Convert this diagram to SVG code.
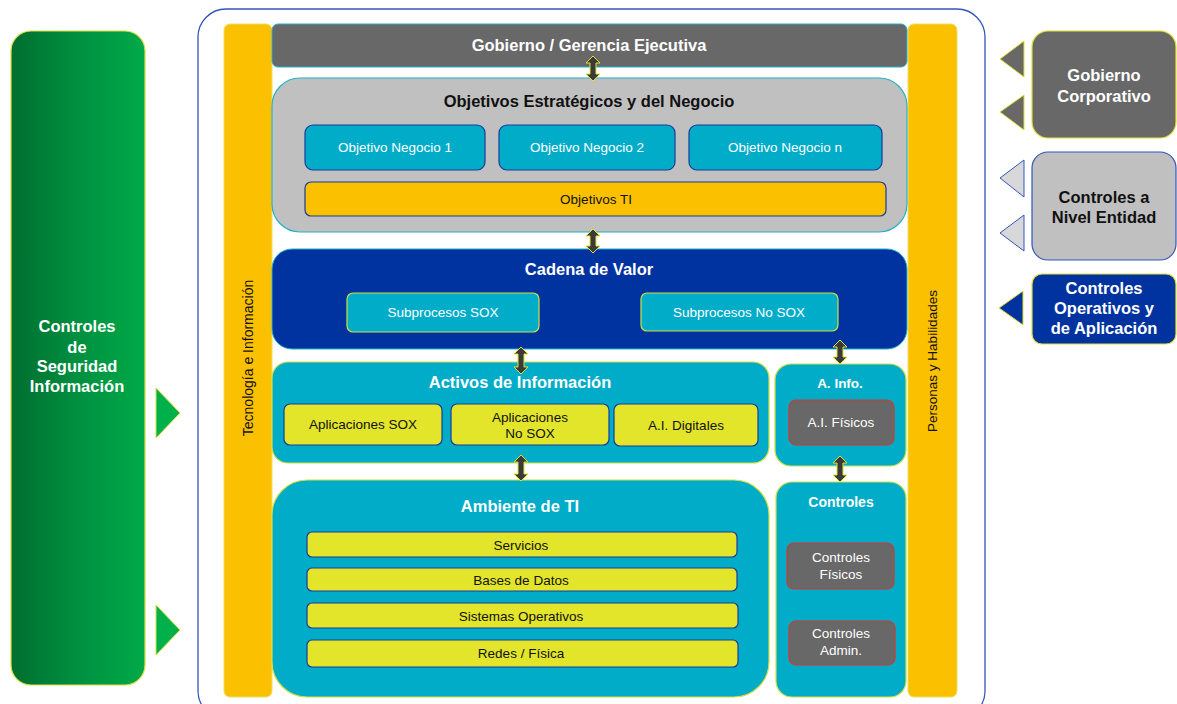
<svg xmlns="http://www.w3.org/2000/svg" width="1177" height="704" viewBox="0 0 1177 704">
<defs>
<linearGradient id="gg" x1="0" y1="0" x2="1" y2="0">
<stop offset="0" stop-color="#006e2e"/>
<stop offset="0.5" stop-color="#009040"/>
<stop offset="1" stop-color="#00aa48"/>
</linearGradient>
</defs>
<style>
text{font-family:"Liberation Sans",Arial,sans-serif;text-anchor:middle}
.w{fill:#fff}.k{fill:#111}
.b{font-weight:bold}
.yel{fill:#fbc100;stroke:#e8e060;stroke-width:1}
.teal{fill:#00acc8;stroke:#d0e040;stroke-width:1.2}
.obj{fill:#00acc8;stroke:#1a3a9a;stroke-width:1.2}
.lime{fill:#e2e52a;stroke:#1a3a9a;stroke-width:1.2}
.gray{fill:#686868;stroke:#cc3a30;stroke-width:1.2}
.dbl{fill:#3a3a3a;stroke:#e0e030;stroke-width:1}
.t{font-size:16.5px;font-weight:bold}
.s{font-size:13.5px}
</style>
<rect width="1177" height="704" fill="#fff"/>

<g id="seguridad">
<rect x="11" y="31" width="134" height="654" rx="20" fill="url(#gg)" stroke="#d8e040" stroke-width="1.2"/>
<text class="w b" font-size="16.5"><tspan x="77" y="332">Controles</tspan><tspan x="77" y="353">de</tspan><tspan x="77" y="372">Seguridad</tspan><tspan x="77" y="392">Información</tspan></text>
<polygon points="156,388 180,413 156,438" fill="#00b04a" stroke="#d8e040" stroke-width="1"/>
<polygon points="156,605 180,630 156,655" fill="#00b04a" stroke="#d8e040" stroke-width="1"/>
</g>

<g id="contenedor">
<rect x="198" y="9" width="787" height="710" rx="28" fill="#fff" stroke="#3355bb" stroke-width="1.3"/>
</g>

<g id="tecnologia">
<rect class="yel" x="224" y="24" width="48" height="673" rx="6"/>
<text class="k" font-size="14" transform="translate(253,358) rotate(-90)">Tecnología e Información</text>
</g>

<g id="personas">
<rect class="yel" x="908" y="24" width="49" height="673" rx="6"/>
<text class="k" font-size="13.5" transform="translate(937,361) rotate(-90)">Personas y Habilidades</text>
</g>

<g id="gobierno">
<rect x="272" y="24" width="635" height="43" rx="6" fill="#686868" stroke="#25b0c8" stroke-width="1"/>
<text class="w t" x="589" y="51">Gobierno / Gerencia Ejecutiva</text>
</g>

<g id="objetivos">
<rect x="272" y="78" width="635" height="154" rx="28" fill="#c0c0c0" stroke="#25b0c8" stroke-width="1.2"/>
<text class="k t" x="589" y="107">Objetivos Estratégicos y del Negocio</text>
<rect class="obj" x="305" y="125" width="180" height="45" rx="8"/>
<text class="w s" x="395" y="152">Objetivo Negocio 1</text>
<rect class="obj" x="499" y="125" width="176" height="45" rx="8"/>
<text class="w s" x="587" y="152">Objetivo Negocio 2</text>
<rect class="obj" x="689" y="125" width="193" height="45" rx="8"/>
<text class="w s" x="785" y="152">Objetivo Negocio n</text>
<rect x="305" y="182" width="581" height="34" rx="6" fill="#fbc100" stroke="#1a3a9a" stroke-width="1.2"/>
<text class="k s" x="596" y="204">Objetivos TI</text>
</g>

<g id="cadena">
<rect x="272" y="249" width="635" height="100" rx="20" fill="#0033a0" stroke="#25b0c8" stroke-width="1"/>
<text class="w t" x="589" y="275">Cadena de Valor</text>
<rect class="teal" x="347" y="293" width="192" height="39" rx="6"/>
<text class="w s" x="443" y="317">Subprocesos SOX</text>
<rect class="teal" x="641" y="293" width="197" height="38" rx="6"/>
<text class="w s" x="739" y="317">Subprocesos No SOX</text>
</g>

<g id="activos">
<rect class="teal" x="272" y="362" width="497" height="101" rx="16"/>
<text class="w t" x="520" y="388">Activos de Información</text>
<rect class="lime" x="284" y="404" width="158" height="41" rx="6"/>
<text class="k s" x="363" y="429">Aplicaciones SOX</text>
<rect class="lime" x="451" y="404" width="158" height="41" rx="6"/>
<text class="k s"><tspan x="530" y="422">Aplicaciones</tspan><tspan x="530" y="438">No SOX</tspan></text>
<rect class="lime" x="614" y="404" width="144" height="42" rx="6"/>
<text class="k s" x="686" y="430">A.I. Digitales</text>
</g>

<g id="ainfo">
<rect class="teal" x="775" y="364" width="131" height="102" rx="16"/>
<text class="w b s" x="840" y="388">A. Info.</text>
<rect class="gray" x="789" y="400" width="105" height="45" rx="7"/>
<text class="w s" x="841" y="427">A.I. Físicos</text>
</g>

<g id="ambiente">
<rect class="teal" x="272" y="480" width="497" height="217" rx="35"/>
<text class="w t" x="520" y="512">Ambiente de TI</text>
<rect class="lime" x="307" y="532" width="430" height="25" rx="5"/>
<text class="k s" x="521" y="550">Servicios</text>
<rect class="lime" x="307" y="568" width="430" height="23" rx="5"/>
<text class="k s" x="521" y="585">Bases de Datos</text>
<rect class="lime" x="307" y="603" width="431" height="25" rx="5"/>
<text class="k s" x="521" y="621">Sistemas Operativos</text>
<rect class="lime" x="307" y="640" width="431" height="27" rx="5"/>
<text class="k s" x="521" y="658">Redes / Física</text>
</g>

<g id="controles">
<rect class="teal" x="776" y="482" width="130" height="215" rx="16"/>
<text class="w b" font-size="14" x="841" y="507">Controles</text>
<rect class="gray" x="787" y="543" width="107" height="46" rx="7"/>
<text class="w s"><tspan x="841" y="562">Controles</tspan><tspan x="841" y="579">Físicos</tspan></text>
<rect class="gray" x="789" y="621" width="106" height="44" rx="7"/>
<text class="w s"><tspan x="841" y="638">Controles</tspan><tspan x="841" y="655">Admin.</tspan></text>
</g>

<g id="gobcorp">
<rect x="1032" y="31" width="144" height="107" rx="16" fill="#686868" stroke="#e0e030" stroke-width="1.2"/>
<text class="w b" font-size="16.5"><tspan x="1104" y="81">Gobierno</tspan><tspan x="1104" y="102">Corporativo</tspan></text>
<polygon points="1024,41 1000,59 1024,77" fill="#686868" stroke="#e0e030" stroke-width="1"/>
<polygon points="1024,95 1000,112 1024,130" fill="#686868" stroke="#e0e030" stroke-width="1"/>
</g>

<g id="entidad">
<rect x="1032" y="152" width="144" height="108" rx="16" fill="#c0c0c0" stroke="#3355bb" stroke-width="1.2"/>
<text class="k b" font-size="16.5"><tspan x="1104" y="203">Controles a</tspan><tspan x="1104" y="223">Nivel Entidad</tspan></text>
<polygon points="1024,160 1000,178 1024,197" fill="#d8d8d8" stroke="#3355bb" stroke-width="1"/>
<polygon points="1024,215 1000,233 1024,251" fill="#d8d8d8" stroke="#3355bb" stroke-width="1"/>
</g>

<g id="operativos">
<rect x="1032" y="274" width="144" height="70" rx="10" fill="#0033a0" stroke="#e0e030" stroke-width="1.2"/>
<text class="w b" font-size="16.5"><tspan x="1104" y="294">Controles</tspan><tspan x="1104" y="314">Operativos y</tspan><tspan x="1104" y="334">de Aplicación</tspan></text>
<polygon points="1023,291 999,308 1023,325" fill="#0033a0" stroke="#e0e030" stroke-width="1"/>
</g>

<g id="conectores">
<polygon class="dbl" points="593,56 600,63 596,63 596,74 600,74 593,81 586,74 590,74 590,63 586,63"/>
<polygon class="dbl" points="593,229 600,236 596,236 596,246 600,246 593,253 586,246 590,246 590,236 586,236"/>
<polygon class="dbl" points="521,347 528,354 524,354 524,367 528,367 521,374 514,367 518,367 518,354 514,354"/>
<polygon class="dbl" points="840,340 847,347 843,347 843,357 847,357 840,364 833,357 837,357 837,347 833,347"/>
<polygon class="dbl" points="521,455 528,462 524,462 524,474 528,474 521,481 514,474 518,474 518,462 514,462"/>
<polygon class="dbl" points="840,456 847,463 843,463 843,475 847,475 840,482 833,475 837,475 837,463 833,463"/>
</g>
</svg>
